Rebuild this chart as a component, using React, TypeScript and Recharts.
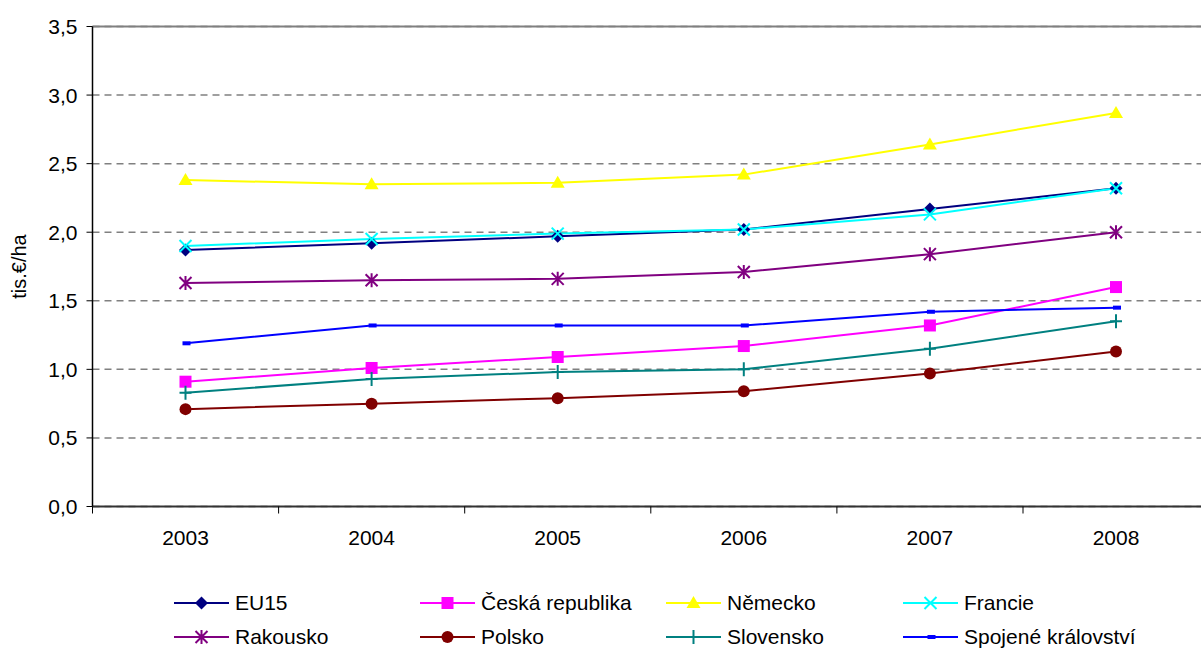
import { LineChart, Line, XAxis, YAxis, CartesianGrid, ReferenceLine } from 'recharts';

const years = ['2003', '2004', '2005', '2006', '2007', '2008'];

const eu15 = [1.87, 1.92, 1.97, 2.02, 2.17, 2.32];
const ceskaRepublika = [0.91, 1.01, 1.09, 1.17, 1.32, 1.6];
const nemecko = [2.38, 2.35, 2.36, 2.42, 2.64, 2.87];
const francie = [1.9, 1.95, 1.99, 2.02, 2.13, 2.32];
const rakousko = [1.63, 1.65, 1.66, 1.71, 1.84, 2.0];
const polsko = [0.71, 0.75, 0.79, 0.84, 0.97, 1.13];
const slovensko = [0.83, 0.93, 0.98, 1.0, 1.15, 1.35];
const spojeneKralovstvi = [1.19, 1.32, 1.32, 1.32, 1.42, 1.45];

const yTicks = [0, 0.5, 1, 1.5, 2, 2.5, 3, 3.5];

const FONT = '"Liberation Sans", Arial, sans-serif';
const HALF_BAND = 93;

type MarkerKind = 'diamond' | 'square' | 'triangle' | 'x' | 'star' | 'circle' | 'plus' | 'dash';

const series: { key: string; name: string; color: string; marker: MarkerKind; values: number[] }[] = [
  { key: 'eu15', name: 'EU15', color: '#000080', marker: 'diamond', values: eu15 },
  { key: 'cz', name: 'Česká republika', color: '#FF00FF', marker: 'square', values: ceskaRepublika },
  { key: 'de', name: 'Německo', color: '#FFFF00', marker: 'triangle', values: nemecko },
  { key: 'fr', name: 'Francie', color: '#00FFFF', marker: 'x', values: francie },
  { key: 'at', name: 'Rakousko', color: '#800080', marker: 'star', values: rakousko },
  { key: 'pl', name: 'Polsko', color: '#800000', marker: 'circle', values: polsko },
  { key: 'sk', name: 'Slovensko', color: '#008080', marker: 'plus', values: slovensko },
  { key: 'uk', name: 'Spojené království', color: '#0000FF', marker: 'dash', values: spojeneKralovstvi },
];

const data = years.map((year, i) => {
  const row: { [k: string]: any } = { year };
  series.forEach((s) => {
    row[s.key] = s.values[i];
  });
  return row;
});

function Marker({ kind, cx, cy, color }: { kind: MarkerKind; cx: number; cy: number; color: string }) {
  switch (kind) {
    case 'diamond':
      return <path d={`M${cx},${cy - 6.5}L${cx + 6.5},${cy}L${cx},${cy + 6.5}L${cx - 6.5},${cy}Z`} fill={color} />;
    case 'square':
      return <rect x={cx - 6} y={cy - 6} width={12} height={12} fill={color} />;
    case 'triangle':
      return <path d={`M${cx},${cy - 7}L${cx + 7},${cy + 5}L${cx - 7},${cy + 5}Z`} fill={color} />;
    case 'x':
      return (
        <path d={`M${cx - 6},${cy - 6}L${cx + 6},${cy + 6}M${cx + 6},${cy - 6}L${cx - 6},${cy + 6}`} stroke={color} strokeWidth={2} fill="none" />
      );
    case 'star':
      return (
        <path
          d={`M${cx - 6},${cy - 6}L${cx + 6},${cy + 6}M${cx + 6},${cy - 6}L${cx - 6},${cy + 6}M${cx},${cy - 7}L${cx},${cy + 7}`}
          stroke={color}
          strokeWidth={2}
          fill="none"
        />
      );
    case 'circle':
      return <circle cx={cx} cy={cy} r={6} fill={color} />;
    case 'plus':
      return <path d={`M${cx - 6},${cy}L${cx + 6},${cy}M${cx},${cy - 7}L${cx},${cy + 7}`} stroke={color} strokeWidth={2} fill="none" />;
    case 'dash':
      return <rect x={cx - 3} y={cy - 2} width={8} height={4} fill={color} />;
  }
  return null;
}

function XTick(props: any) {
  const { x, y, payload } = props;
  return (
    <g>
      <line x1={x - HALF_BAND} x2={x - HALF_BAND} y1={y - 7} y2={y} stroke="#000" strokeWidth={1} />
      <text x={x} y={y + 31} textAnchor="middle" fontFamily={FONT} fontSize={21} fill="#000">
        {payload.value}
      </text>
    </g>
  );
}

function YLabel(props: any) {
  const vb = props.viewBox || { x: 0, y: 0, height: 0 };
  const cx = vb.x + 19;
  const cy = vb.y + vb.height / 2;
  return (
    <text x={cx} y={cy} transform={`rotate(-90 ${cx} ${cy})`} textAnchor="middle" dominantBaseline="central" fontFamily={FONT} fontSize={20} fill="#000">
      tis.€/ha
    </text>
  );
}

const legendCols = [174, 420, 666, 903];
const legendRows = [603, 637];

export default function App() {
  return (
    <div style={{ position: 'absolute', left: 0, top: 0, width: 1201, height: 651, overflow: 'hidden', background: '#fff' }}>
      <LineChart width={1209} height={651} data={data} margin={{ top: 26.5, right: 0, left: 0, bottom: 0 }}>
        <CartesianGrid vertical={false} stroke="#808080" strokeDasharray="7 5" strokeWidth={1.5} />
        <ReferenceLine y={3.5} stroke="#808080" strokeWidth={2} />
        <XAxis
          dataKey="year"
          height={144.5}
          padding={{ left: HALF_BAND, right: HALF_BAND }}
          axisLine={{ stroke: '#333', strokeWidth: 2 }}
          tickLine={false}
          tickSize={7}
          tickMargin={0}
          tick={<XTick />}
          interval={0}
        />
        <YAxis
          domain={[0, 3.5]}
          ticks={yTicks}
          width={92.5}
          axisLine={{ stroke: '#000', strokeWidth: 1.5 }}
          tickLine={{ stroke: '#000' }}
          tickSize={6}
          tickMargin={9}
          tickFormatter={(v: number) => v.toFixed(1).replace('.', ',')}
          tick={{ fontFamily: FONT, fontSize: 21, fill: '#000' }}
          label={<YLabel />}
        />
        {series.map((s) => (
          <Line
            key={s.key}
            dataKey={s.key}
            name={s.name}
            stroke={s.color}
            strokeWidth={2}
            isAnimationActive={false}
            dot={(p: any) => <Marker key={`${s.key}-${p.index}`} kind={s.marker} cx={p.cx} cy={p.cy} color={s.color} />}
            activeDot={false}
          />
        ))}
      </LineChart>
      {series.map((s, i) => {
        const left = legendCols[i % 4];
        const top = legendRows[Math.floor(i / 4)];
        return (
          <div key={s.key} style={{ position: 'absolute', left, top: top - 12, height: 24, display: 'flex', alignItems: 'center' }}>
            <svg width={56} height={24}>
              <line x1={0} x2={55} y1={12} y2={12} stroke={s.color} strokeWidth={2} />
              <Marker kind={s.marker} cx={27.5} cy={12} color={s.color} />
            </svg>
            <span style={{ marginLeft: 5, fontFamily: FONT, fontSize: 21, color: '#000', whiteSpace: 'nowrap' }}>{s.name}</span>
          </div>
        );
      })}
    </div>
  );
}
